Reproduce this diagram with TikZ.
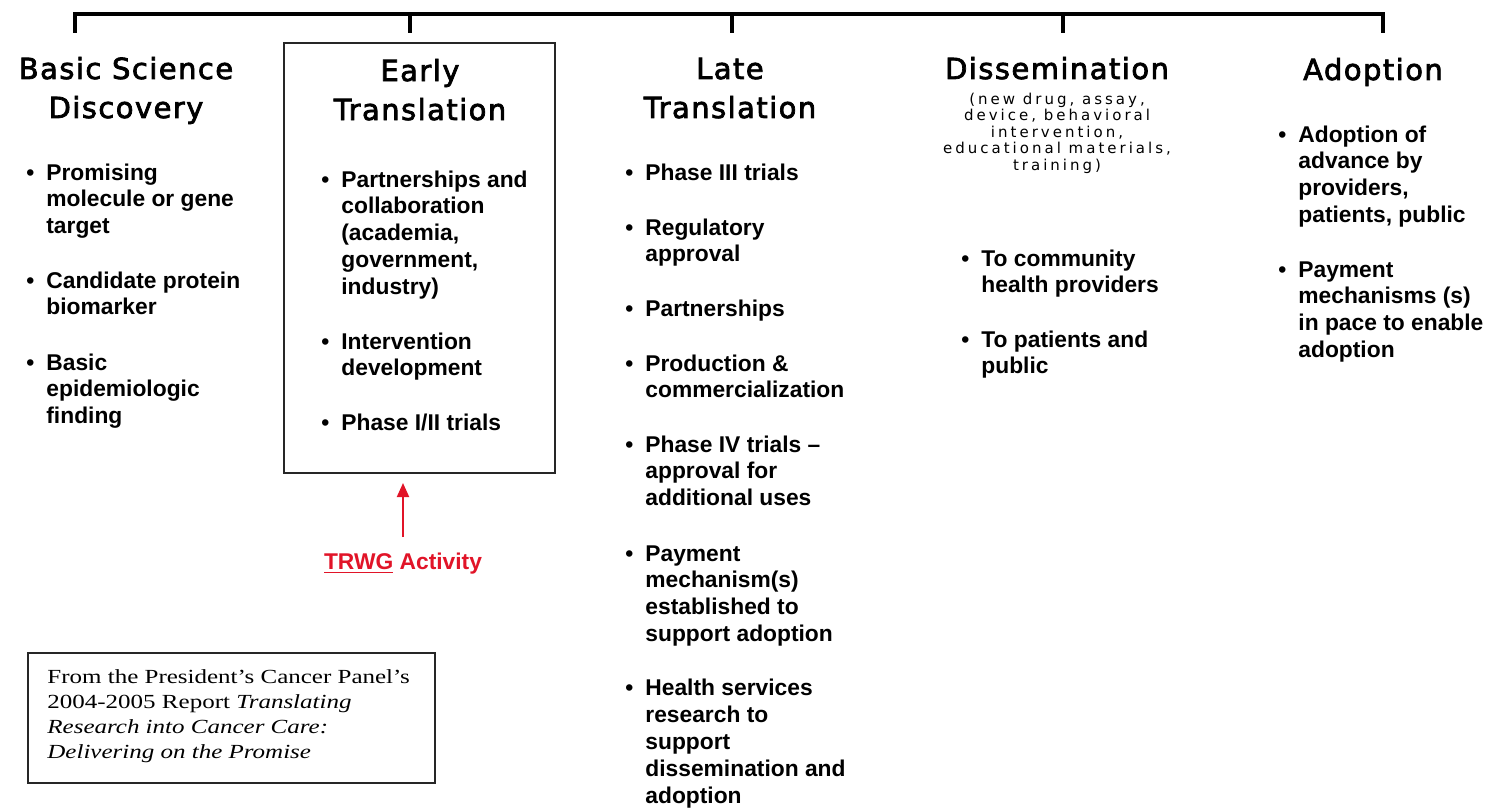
\documentclass[tikz,border=0pt]{standalone}
\usepackage{fontspec}
\setmainfont{Liberation Sans}
\newfontfamily\headfont[LetterSpace=5, FakeBold=2.5]{DejaVu Sans}
\newfontfamily\subfont[LetterSpace=20]{DejaVu Sans}
\newfontfamily\citefont[FakeStretch=1.25]{Liberation Serif}
\usetikzlibrary{arrows.meta, fit}
\definecolor{trwgred}{RGB}{225,20,40}
\newcommand{\bul}{\llap{\textbullet\hspace{6pt}}}
% multi-line nodes sit on the baseline of their last line
\tikzset{%
	head/.style={font=\headfont\fontsize{14.5}{19.5}\selectfont, align=center, anchor=base, inner sep=0pt},
	sub/.style={font=\subfont\fontsize{7.5}{8.25}\selectfont, align=center, anchor=base, inner sep=0pt},
	item/.style={font=\fontsize{11.4}{13.4}\selectfont\bfseries, align=left, anchor=base west, inner sep=0pt},
	frame/.style={draw=black!85, line width=1pt, inner sep=0pt},
	cite/.style={font=\citefont\fontsize{10}{12.5}\selectfont, align=left, anchor=base west, inner sep=0pt},
	bar/.style={line width=2pt, line join=miter},
	pointer/.style={-{Triangle[length=7pt,width=6pt]}, line width=1pt, draw=trwgred},
	activity/.style={font=\fontsize{11.4}{13.4}\selectfont\bfseries, text=trwgred, anchor=base, inner sep=0pt}
}
\begin{document}
\begin{tikzpicture}[x=0.5pt, y=-0.5pt]
	\useasboundingbox (0,0) rectangle (1491,808);

	% bracket over the stages
	\draw[bar] (75,33) -- (75,14) -- (1383,14) -- (1383,33);
	\foreach \x in {410,732,1063}
		\draw[bar] (\x,14) -- (\x,33);

	% stage headings
	\node[head] (bsd) at (126,118) {Basic Science\\Discovery};
	\node[head] (et) at (420,120) {Early\\Translation};
	\node[head] (lt) at (730,118) {Late\\Translation};
	\node[head] (dis) at (1057,79) {Dissemination};
	\node[sub] (dissub) at (1057,170) {(new drug, assay,\\device, behavioral\\intervention,\\educational materials,\\training)};
	\node[head] (adp) at (1373,80) {Adoption};

	% early translation frame
	\coordinate (e1) at (284,43);
	\coordinate (e2) at (555,473);
	\node[frame, fit=(e1)(e2)] (early) {};

	% basic science
	\node[item] (bs1) at (46,233.6) {\bul Promising\\molecule or gene\\target};
	\node[item] (bs2) at (46,314.8) {\bul Candidate protein\\biomarker};
	\node[item] (bs3) at (46,423.6) {\bul Basic\\epidemiologic\\finding};

	% early translation
	\node[item] (et1) at (341,294.2) {\bul Partnerships and\\collaboration\\(academia,\\government,\\industry)};
	\node[item] (et2) at (341,375.8) {\bul Intervention\\development};
	\node[item] (et3) at (341,430) {\bul Phase I/II trials};

	% late translation
	\node[item] (lt1) at (645,180) {\bul Phase III trials};
	\node[item] (lt2) at (645,261.8) {\bul Regulatory\\approval};
	\node[item] (lt3) at (645,316) {\bul Partnerships};
	\node[item] (lt4) at (645,397.8) {\bul Production \&\\commercialization};
	\node[item] (lt5) at (645,505.6) {\bul Phase IV trials --\\approval for\\additional uses};
	\node[item] (lt6) at (645,641.4) {\bul Payment\\mechanism(s)\\established to\\support adoption};
	\node[item] (lt7) at (645,803) {\bul Health services\\research to\\support\\dissemination and\\adoption};

	% dissemination
	\node[item] (ds1) at (981,292.8) {\bul To community\\health providers};
	\node[item] (ds2) at (981,373.8) {\bul To patients and\\public};

	% adoption
	\node[item] (ad1) at (1298,222.4) {\bul Adoption of\\advance by\\providers,\\patients, public};
	\node[item] (ad2) at (1298,357.4) {\bul Payment\\mechanisms (s)\\in pace to enable\\adoption};

	% TRWG pointer
	\node[activity] (trwg) at (403,569) {\underline{TRWG} Activity};
	\draw[pointer, shorten <=7.5pt, shorten >=4.5pt] (trwg.north) -- (trwg.north |- early.south);

	% source note
	\coordinate (c1) at (28,653);
	\coordinate (c2) at (435,783);
	\node[frame, fit=(c1)(c2)] (citebox) {};
	\node[cite] (src) at (47,758) {From the President’s Cancer Panel’s\\2004-2005 Report \textit{Translating}\\\textit{Research into Cancer Care:}\\\textit{Delivering on the Promise}};
\end{tikzpicture}
\end{document}
